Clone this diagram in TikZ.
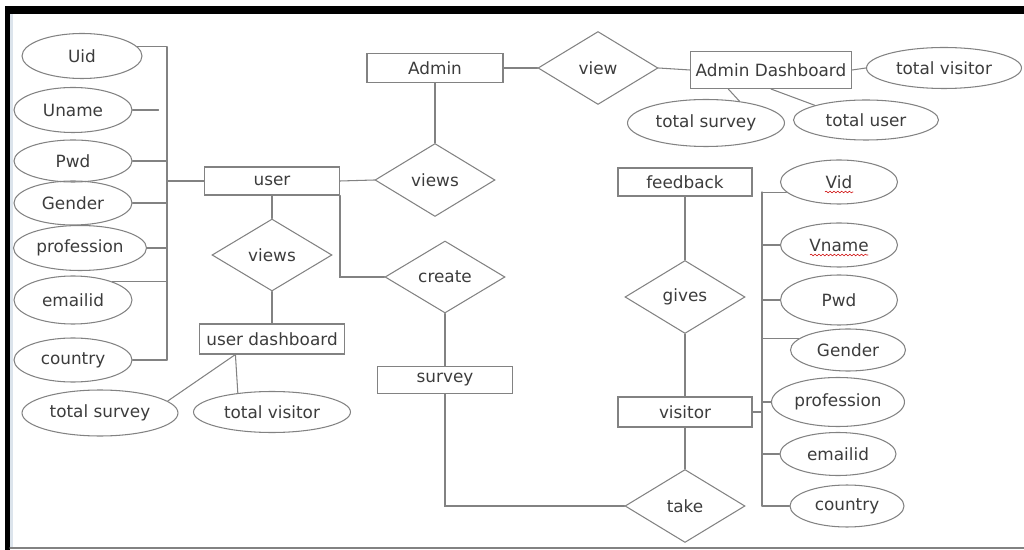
\documentclass[tikz,border=0pt]{standalone}
\usepackage{fontspec}
\setmainfont{DejaVu Sans}
\usetikzlibrary{shapes.geometric}
\usetikzlibrary{math}
\usetikzlibrary{decorations.pathmorphing}

\definecolor{linegray}{RGB}{130,130,130}
\definecolor{textgray}{RGB}{60,60,60}
\definecolor{stripblue}{RGB}{220,228,236}

\begin{document}
\begin{tikzpicture}[line cap=round, line width=0.6pt, x=0.02cm, y=-0.02cm,
    font=\fontsize{9.6}{11}\selectfont,
    ent/.style={draw=linegray, rectangle, minimum width=2.7cm, minimum height=0.56cm, inner sep=0pt, text=textgray},
    rel/.style={draw=linegray, diamond, minimum width=2.4cm, minimum height=1.46cm, inner sep=0pt, text=textgray},
    attr/.style={draw=linegray, ellipse, minimum width=2.36cm, minimum height=0.9cm, inner sep=0pt, text=textgray},
    conn/.style={draw=linegray},
    squig/.style={draw=red!80!black, line width=0.3pt, decorate, decoration={snake, amplitude=0.5pt, segment length=2.2pt}}]

    \useasboundingbox (0,0) rectangle (1024,550);

    % frame of the page
    \fill[black] (5,6) rectangle (1024,14);
    \fill[black] (5,6) rectangle (10,550);
    \fill[stripblue] (10,14) rectangle (13,548);
    \draw[linegray] (10,548) -- (1024,548);

    \tikzmath{
        \ux = 167;
        \vx = 762;
    };

    % user and its attributes
    \begin{scope}
        \node[ent] (user) at (272,181) {user};
        \node[attr, minimum width=2.4cm] (uid) at (82,56) {Uid};
        \node[attr] (uname) at (73,110) {Uname};
        \node[attr, minimum height=0.84cm] (upwd) at (73,161) {Pwd};
        \node[attr, minimum height=0.88cm] (ugender) at (73,203) {Gender};
        \node[attr, minimum width=2.66cm] (uprof) at (80,248) {profession};
        \node[attr, minimum height=0.96cm] (uemail) at (73,300) {emailid};
        \node[attr, minimum height=0.88cm] (ucountry) at (73,360) {country};

        \coordinate (ubustop) at (\ux,47);
        \coordinate (ubusbot) at (\ux,360);
        \draw[conn] (ubustop) -- (ubusbot);
        \draw[conn] (uid.10) -- (uid.10 -| ubustop);
        \draw[conn] (uname.east) -- ++(26,0);
        \foreach \a in {upwd, ugender, uprof, ucountry}
            \draw[conn] (\a.east) -- (\a.east -| ubustop);
        \draw[conn] (uemail.25) -- (uemail.25 -| ubustop);
        \draw[conn] (user.west) -- (user.west -| ubustop);

        \node[rel, minimum height=1.44cm] (uviews) at (272,255) {views};
        \node[ent, minimum width=2.9cm, minimum height=0.6cm] (udash) at (272,339) {user dashboard};
        \node[attr, minimum width=3.12cm, minimum height=0.92cm] (udsurvey) at (100,413) {total survey};
        \node[attr, minimum width=3.14cm, minimum height=0.82cm] (udvisitor) at (272,412) {total visitor};

        \draw[conn] (user.south) -- (uviews.north);
        \draw[conn] (uviews.south) -- (udash.north);
        \draw[conn] (udash.203) -- (udsurvey.10);
        \draw[conn] (udash.203) -- (udvisitor.151);
    \end{scope}

    % admin side
    \begin{scope}
        \node[ent, minimum width=2.72cm, minimum height=0.58cm] (admin) at (435,68) {Admin};
        \node[rel] (aviews) at (435,180) {views};
        \node[rel] (aview) at (598,68) {view};
        \node[ent, minimum width=3.22cm, minimum height=0.74cm] (adash) at (771,70) {Admin Dashboard};
        \node[attr, minimum width=3.1cm, minimum height=0.82cm] (advisitor) at (944,68) {total visitor};
        \node[attr, minimum width=2.9cm, minimum height=0.8cm] (aduser) at (866,120) {total user};
        \node[attr, minimum width=3.14cm, minimum height=0.94cm] (adsurvey) at (706,123) {total survey};

        \draw[conn] (user.east) -- (aviews.west);
        \draw[conn] (admin.south) -- (aviews.north);
        \draw[conn] (admin.east) -- (aview.west);
        \draw[conn] (aview.east) -- (adash.west);
        \draw[conn] (adash.east) -- (advisitor.west);
        \draw[conn] (adash.south) -- (aduser.164);
        \draw[conn] (adash.204) -- (adsurvey.33);
    \end{scope}

    % survey
    \node[rel, minimum height=1.44cm] (create) at (445,277) {create};
    \node[ent, minimum height=0.54cm] (survey) at (445,380) {survey};
    \draw[conn] (user.south east) |- (create.west);
    \draw[conn] (create.south) -- (survey.north);

    % visitor and its attributes
    \begin{scope}
        \node[ent, minimum width=2.68cm] (feedback) at (685,182) {feedback};
        \node[rel] (gives) at (685,297) {gives};
        \node[ent, minimum width=2.68cm, minimum height=0.6cm] (visitor) at (685,412) {visitor};
        \node[rel] (take) at (685,506) {take};

        \draw[conn] (feedback.south) -- (gives.north);
        \draw[conn] (gives.south) -- (visitor.north);
        \draw[conn] (visitor.south) -- (take.north);
        \draw[conn] (survey.south) |- (take.west);

        \node[attr, minimum width=2.34cm, minimum height=0.88cm] (vid) at (839,182) {Vid};
        \node[attr, minimum width=2.34cm, minimum height=0.88cm] (vname) at (839,245) {Vname};
        \node[attr, minimum width=2.34cm, minimum height=1.0cm] (vpwd) at (839,300) {Pwd};
        \node[attr, minimum width=2.3cm, minimum height=0.84cm] (vgender) at (848,350) {Gender};
        \node[attr, minimum width=2.66cm, minimum height=0.98cm] (vprof) at (838,402) {profession};
        \node[attr, minimum width=2.32cm, minimum height=0.86cm] (vemail) at (838,454) {emailid};
        \node[attr, minimum width=2.28cm, minimum height=0.84cm] (vcountry) at (847,506) {country};

        \coordinate (vbustop) at (\vx,192);
        \coordinate (vbusbot) at (\vx,506);
        \draw[conn] (vbustop) -- (vbusbot);
        \draw[conn] (vid.191) -- (vid.191 -| vbustop);
        \draw[conn] (vgender.167) -- (vgender.167 -| vbustop);
        \foreach \a in {vname, vpwd, vprof, vemail, vcountry}
            \draw[conn] (\a.west) -- (\a.west -| vbustop);
        \draw[conn] (visitor.east) -- (visitor.east -| vbustop);

        % spell-check marks
        \draw[squig] ([shift={(-14,10)}]vid.center) -- ++(28,0);
        \draw[squig] ([shift={(-29,10)}]vname.center) -- ++(58,0);
    \end{scope}

\end{tikzpicture}
\end{document}
